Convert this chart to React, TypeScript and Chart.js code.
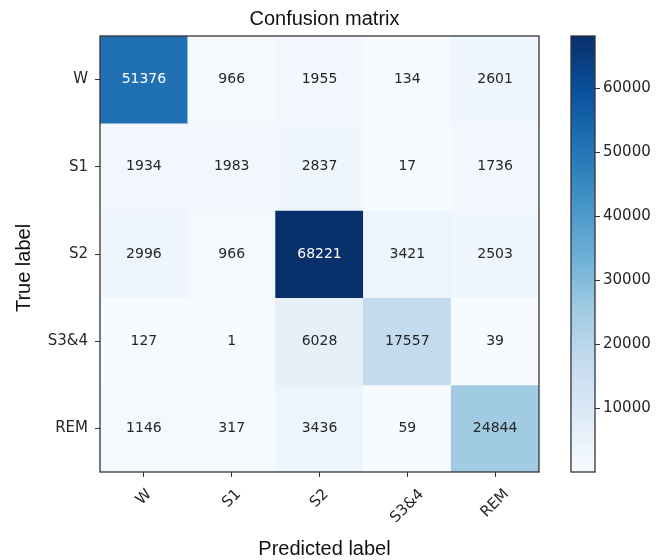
import React, { useEffect, useRef } from 'react';
import { Chart, registerables } from 'chart.js';

Chart.register(...registerables);

// ---------- data ----------
const trueLabels = ['W', 'S1', 'S2', 'S3&4', 'REM'];
const predictedLabels = ['W', 'S1', 'S2', 'S3&4', 'REM'];
const rowW = [51376, 966, 1955, 134, 2601];
const rowS1 = [1934, 1983, 2837, 17, 1736];
const rowS2 = [2996, 966, 68221, 3421, 2503];
const rowS34 = [127, 1, 6028, 17557, 39];
const rowREM = [1146, 317, 3436, 59, 24844];
const matrix = [rowW, rowS1, rowS2, rowS34, rowREM];
const colorbarTicks = [10000, 20000, 30000, 40000, 50000, 60000];
const titleText = 'Confusion matrix';
const xTitleText = 'Predicted label';
const yTitleText = 'True label';

const allValues = matrix.flat();
const vmin = Math.min(...allValues);
const vmax = Math.max(...allValues);

// matplotlib "Blues"
const BLUES = ['#f7fbff', '#deebf7', '#c6dbef', '#9ecae1', '#6baed6', '#4292c6', '#2171b5', '#08519c', '#08306b'];
function hexToRgb(h: string) {
  return [parseInt(h.slice(1, 3), 16), parseInt(h.slice(3, 5), 16), parseInt(h.slice(5, 7), 16)];
}
function blues(t: number) {
  const tt = Math.max(0, Math.min(1, t));
  const p = tt * 8;
  const i = Math.min(7, Math.floor(p));
  const f = p - i;
  const a = hexToRgb(BLUES[i]);
  const b = hexToRgb(BLUES[i + 1]);
  const c = a.map((v, k) => Math.round(v + (b[k] - v) * f));
  return `rgb(${c[0]},${c[1]},${c[2]})`;
}

const TICK_FONT = '"DejaVu Sans", sans-serif';
const TITLE_FONT = '"Liberation Sans", Arial, sans-serif';
const TEXT_DARK = '#262626';
const AXIS_COLOR = '#333333';

const matrixPlugin = {
  id: 'matrixDecor',
  afterDatasetsDraw(chart: any) {
    const ctx = chart.ctx;
    const a = chart.chartArea;
    ctx.save();
    // cell numbers
    ctx.font = `14px ${TICK_FONT}`;
    ctx.textAlign = 'center';
    ctx.textBaseline = 'middle';
    matrix.forEach((row, i) => {
      const meta = chart.getDatasetMeta(i);
      row.forEach((v, j) => {
        const el = meta.data[j];
        const x = el.x;
        const y = (el.y + el.base) / 2;
        ctx.fillStyle = v > vmax / 2 ? '#ffffff' : TEXT_DARK;
        ctx.fillText(String(v), x, y);
      });
    });
    // frame
    ctx.strokeStyle = AXIS_COLOR;
    ctx.lineWidth = 1.3;
    ctx.strokeRect(a.left, a.top, a.right - a.left, a.bottom - a.top);

    // rotated x tick labels (centered on tick, top aligned)
    const xs = chart.scales.x;
    ctx.font = `15px ${TICK_FONT}`;
    ctx.fillStyle = TEXT_DARK;
    predictedLabels.forEach((lab, j) => {
      const px = xs.getPixelForValue(j);
      const w = ctx.measureText(lab).width;
      const capH = 11;
      const ext = (w + capH) * Math.SQRT1_2;
      const top = a.bottom + 16;
      ctx.save();
      ctx.translate(px, top + ext / 2);
      ctx.rotate(-Math.PI / 4);
      ctx.textAlign = 'center';
      ctx.textBaseline = 'middle';
      ctx.fillText(lab, 0, 0);
      ctx.restore();
    });

    // titles
    ctx.fillStyle = '#111111';
    ctx.font = `20px ${TITLE_FONT}`;
    ctx.textAlign = 'center';
    ctx.textBaseline = 'alphabetic';
    const cx = (a.left + a.right) / 2 + 5;
    ctx.fillText(titleText, cx, a.top - 11);
    ctx.fillText(xTitleText, cx, a.bottom + 83);
    ctx.save();
    ctx.translate(30, (a.top + a.bottom) / 2 + 14);
    ctx.rotate(-Math.PI / 2);
    ctx.fillText(yTitleText, 0, 0);
    ctx.restore();
    ctx.restore();
  },
};

const colorbarPlugin = {
  id: 'cbFrame',
  afterDatasetsDraw(chart: any) {
    const a = chart.chartArea;
    const ctx = chart.ctx;
    ctx.save();
    ctx.strokeStyle = AXIS_COLOR;
    ctx.lineWidth = 1.3;
    ctx.strokeRect(a.left, a.top, a.right - a.left, a.bottom - a.top);
    ctx.restore();
  },
};

export default function App() {
  const mainRef = useRef<HTMLCanvasElement | null>(null);
  const cbRef = useRef<HTMLCanvasElement | null>(null);

  useEffect(() => {
    if (!mainRef.current || !cbRef.current) return;
    const main = new Chart(mainRef.current, {
      type: 'bar',
      data: {
        labels: predictedLabels,
        datasets: matrix.map((row, i) => ({
          label: trueLabels[i],
          data: row.map(() => 1),
          backgroundColor: row.map((v) => blues((v - vmin) / (vmax - vmin))),
          borderWidth: 0,
          barPercentage: 1,
          categoryPercentage: 1,
        })),
      },
      options: {
        animation: false,
        responsive: false,
        layout: { padding: { top: 36, right: 6, left: 0, bottom: 0 } },
        plugins: {
          legend: { display: false },
          tooltip: { enabled: false },
          title: { display: false },
        },
        scales: {
          x: {
            stacked: true,
            offset: true,
            grid: {
              offset: false,
              drawOnChartArea: false,
              drawTicks: true,
              tickLength: 5,
              color: AXIS_COLOR,
              lineWidth: 1,
            },
            border: { display: false },
            ticks: { display: false },
            afterFit: (s: any) => {
              s.height = 88;
            },
          },
          y: {
            stacked: true,
            reverse: true,
            min: 0,
            max: 5,
            afterBuildTicks: (s: any) => {
              s.ticks = trueLabels.map((_, i) => ({ value: i + 0.5 }));
            },
            ticks: {
              autoSkip: false,
              callback: (v: any) => trueLabels[Math.floor(Number(v))],
              font: { family: TICK_FONT, size: 15 },
              color: TEXT_DARK,
              padding: 7,
            },
            grid: {
              drawOnChartArea: false,
              drawTicks: true,
              tickLength: 5,
              color: AXIS_COLOR,
              lineWidth: 1,
            },
            border: { display: false },
            afterFit: (s: any) => {
              s.width = 100;
            },
          },
        },
      } as any,
      plugins: [matrixPlugin],
    });

    const cb = new Chart(cbRef.current, {
      type: 'bar',
      data: {
        labels: [''],
        datasets: [
          {
            data: [[vmin, vmax]] as any,
            backgroundColor: (ctx: any) => {
              const chart = ctx.chart;
              const a = chart.chartArea;
              if (!a) return BLUES[0];
              const ys = chart.scales.y;
              const g = chart.ctx.createLinearGradient(0, ys.getPixelForValue(vmin), 0, ys.getPixelForValue(vmax));
              BLUES.forEach((c, k) => g.addColorStop(k / 8, c));
              return g;
            },
            borderWidth: 0,
            barPercentage: 1,
            categoryPercentage: 1,
          },
        ],
      },
      options: {
        animation: false,
        responsive: false,
        layout: { padding: { left: 11, top: 36, bottom: 88, right: 0 } },
        plugins: { legend: { display: false }, tooltip: { enabled: false } },
        scales: {
          x: { display: false },
          y: {
            position: 'right',
            min: vmin,
            max: vmax,
            afterBuildTicks: (s: any) => {
              s.ticks = colorbarTicks.map((v) => ({ value: v }));
            },
            ticks: {
              autoSkip: false,
              callback: (v: any) => String(v),
              font: { family: TICK_FONT, size: 15 },
              color: TEXT_DARK,
              padding: 3,
            },
            grid: {
              drawOnChartArea: false,
              drawTicks: true,
              tickLength: 5,
              color: AXIS_COLOR,
            },
            border: { display: false },
            afterFit: (s: any) => {
              s.width = 62;
            },
          },
        },
      } as any,
      plugins: [colorbarPlugin],
    });

    return () => {
      main.destroy();
      cb.destroy();
    };
  }, []);

  return (
    <div style={{ position: 'fixed', left: 0, top: 0, width: 657, height: 560, background: '#ffffff' }}>
      <canvas
        ref={mainRef}
        width={545}
        height={560}
        style={{ position: 'absolute', left: 0, top: 0, width: 545, height: 560 }}
      />
      <canvas
        ref={cbRef}
        width={97}
        height={560}
        style={{ position: 'absolute', left: 560, top: 0, width: 97, height: 560 }}
      />
    </div>
  );
}
